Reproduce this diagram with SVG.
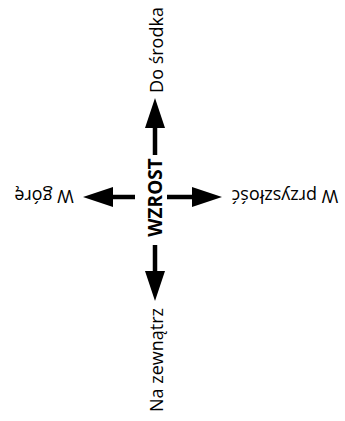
<svg xmlns="http://www.w3.org/2000/svg" width="345" height="421" viewBox="0 0 345 421">
  <style>
    .lbl { font-family: "Open Sans", "Liberation Sans", sans-serif; font-size: 18px; fill: #000; }
    .ctr { font-family: "Open Sans", "Liberation Sans", sans-serif; font-size: 19px; font-weight: bold; fill: #000; }
    .conn { stroke: #000; stroke-width: 4.5; fill: none; marker-end: url(#head); }
  </style>
  <defs>
    <marker id="head" markerUnits="userSpaceOnUse" markerWidth="30" markerHeight="20" refX="10" refY="10" orient="auto" viewBox="0 0 30 20">
      <path d="M0,0 L30,10 L0,20 z" fill="#000"/>
    </marker>
  </defs>
  <rect width="345" height="421" fill="#fff"/>
  <g id="connectors">
    <line class="conn" x1="155" y1="155" x2="155" y2="118"/>
    <line class="conn" x1="155" y1="245" x2="155" y2="281"/>
    <line class="conn" x1="135" y1="197" x2="103" y2="197"/>
    <line class="conn" x1="167" y1="197" x2="202" y2="197"/>
  </g>
  <g id="center">
    <text class="ctr" transform="translate(162,197.5) rotate(-90)" text-anchor="middle">WZROST</text>
  </g>
  <g id="up">
    <text class="lbl" transform="translate(162.5,50) rotate(-90)" text-anchor="middle">Do środka</text>
  </g>
  <g id="down">
    <text class="lbl" transform="translate(162.5,360) rotate(-90)" text-anchor="middle">Na zewnątrz</text>
  </g>
  <g id="left">
    <text class="lbl" transform="translate(44,190) rotate(180)" text-anchor="middle">W górę</text>
  </g>
  <g id="right">
    <text class="lbl" transform="translate(285,190) rotate(180)" text-anchor="middle">W przyszłość</text>
  </g>
</svg>
